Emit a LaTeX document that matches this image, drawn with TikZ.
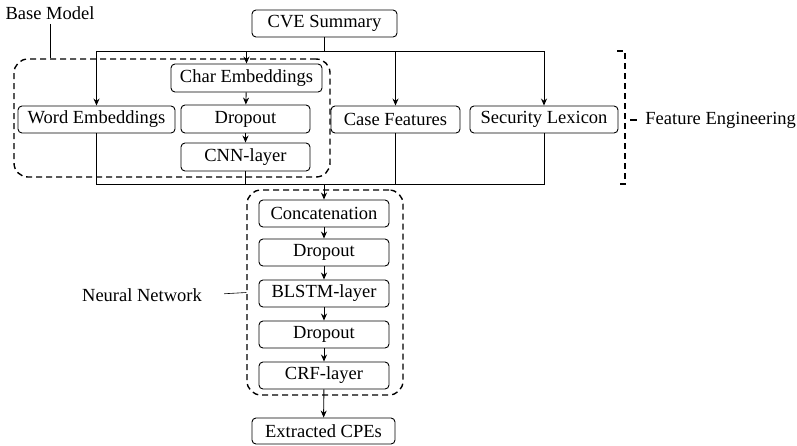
\documentclass[tikz,border=0pt]{standalone}
\usepackage{fontspec}
\setmainfont{Liberation Serif}
\usepackage{tikz}
\usetikzlibrary{arrows.meta,calc,positioning}
\tikzset{
  blk/.style = {draw, rounded corners=4pt, inner sep=0pt, minimum height=27pt, align=center,
  font=\rmfamily\fontsize{18.5}{21}\selectfont},
  blk_w/.style = {blk, minimum width=#1},
  lbl/.style = {inner sep=0pt, font=\rmfamily\fontsize{18.5}{21}\selectfont}
}
\begin{document}
\begin{tikzpicture}[x=1pt, y=-1pt, line width=0.9pt, >={Stealth[length=7pt, width=6pt]},
        grp/.style={draw, dash pattern=on 6pt off 4pt, line width=1.4pt, rounded corners=14pt, inner sep=0pt},
        arr/.style={->}]
        \useasboundingbox (0,0) rectangle (797,445);
        % input
        \node [blk_w=145pt] (cve) at (324.5,23.5) {CVE Summary};
        % base model
        \node [blk_w=157pt] (word) at (96.5,119.5) {Word Embeddings};
        \node [blk_w=151pt, minimum height=28pt] (char) at (246.5,78) {Char Embeddings};
        \node [blk_w=129pt, minimum height=28pt] (drop1) at (245.5,119) {Dropout};
        \node [blk_w=129pt, minimum height=28pt] (cnn) at (245.5,157) {CNN-layer};
        % feature engineering
        \node [blk_w=129pt] (case) at (395.5,119.5) {Case Features};
        \node [blk_w=148pt] (lex) at (544,119.5) {Security Lexicon};
        % neural network
        \node [blk_w=130pt] (concat) at (324,213.5) {Concatenation};
        \node [blk_w=130pt] (drop2) at (324,252.5) {Dropout};
        \node [blk_w=130pt] (blstm) at (324,293.5) {BLSTM-layer};
        \node [blk_w=130pt] (drop3) at (324,334.5) {Dropout};
        \node [blk_w=130pt] (crf) at (324,375.5) {CRF-layer};
        \node [blk_w=143pt, minimum height=26pt] (cpe) at (323.5,431) {Extracted CPEs};
        % groups
        \node [grp, minimum width=316pt, minimum height=118pt] (bmbox) at (172,118) {};
        \node [grp, minimum width=156pt, minimum height=205pt] (nnbox) at (325,292.5) {};
        \node [lbl] (bmlabel) at (50,13) {Base Model};
        \node [lbl] (nnlabel) at (142,295) {Neural Network};
        \node [lbl, anchor=west] (felabel) at (645,120) {Feature Engineering};
        \draw [line width=0.6pt] (bmlabel.south) ++(0,4) -- (bmlabel.south |- bmbox.north);
        \draw [line width=0.6pt, shorten <=22pt] (nnlabel.east) -- (nnbox.west);
        % bracket
        \coordinate (fetop) at (625,51);
        \coordinate (febot) at (625,184);
        \draw [dash pattern=on 6pt off 4pt, line width=1.2pt] ($(fetop)+(-8,0)$) -- (fetop) -- (febot) -- ($(febot)+(-8,0)$);
        \draw [line width=1.2pt] ($(felabel.west)+(-15,0)$) -- ($(felabel.west)+(-8,0)$);
        % top bus
        \coordinate (tl) at (96.5,51);
        \coordinate (tr) at (544,51);
        \draw (cve.south) -- (cve.south |- tl);
        \draw (tl) -- (tr);
        \draw [arr] (tl) -- (word.north);
        \draw [arr] (char.north |- tl) -- (char.north);
        \draw [arr] (case.north |- tl) -- (case.north);
        \draw [arr] (tr) -- (lex.north);
        \draw [arr] (char) -- (drop1);
        \draw [arr] (drop1) -- (cnn);
        % bottom bus
        \coordinate (bl) at (96.5,184);
        \coordinate (br) at (544,184);
        \draw (word.south) -- (bl) -- (br) -- (lex.south);
        \draw (cnn.south) -- (cnn.south |- bl);
        \draw (case.south) -- (case.south |- bl);
        \draw [arr] (concat.north |- bl) -- (concat.north);
        \draw [arr] (concat) -- (drop2);
        \draw [arr] (drop2) -- (blstm);
        \draw [arr] (blstm) -- (drop3);
        \draw [arr] (drop3) -- (crf);
        \draw [arr] (crf) -- (cpe);
\end{tikzpicture}
\end{document}
